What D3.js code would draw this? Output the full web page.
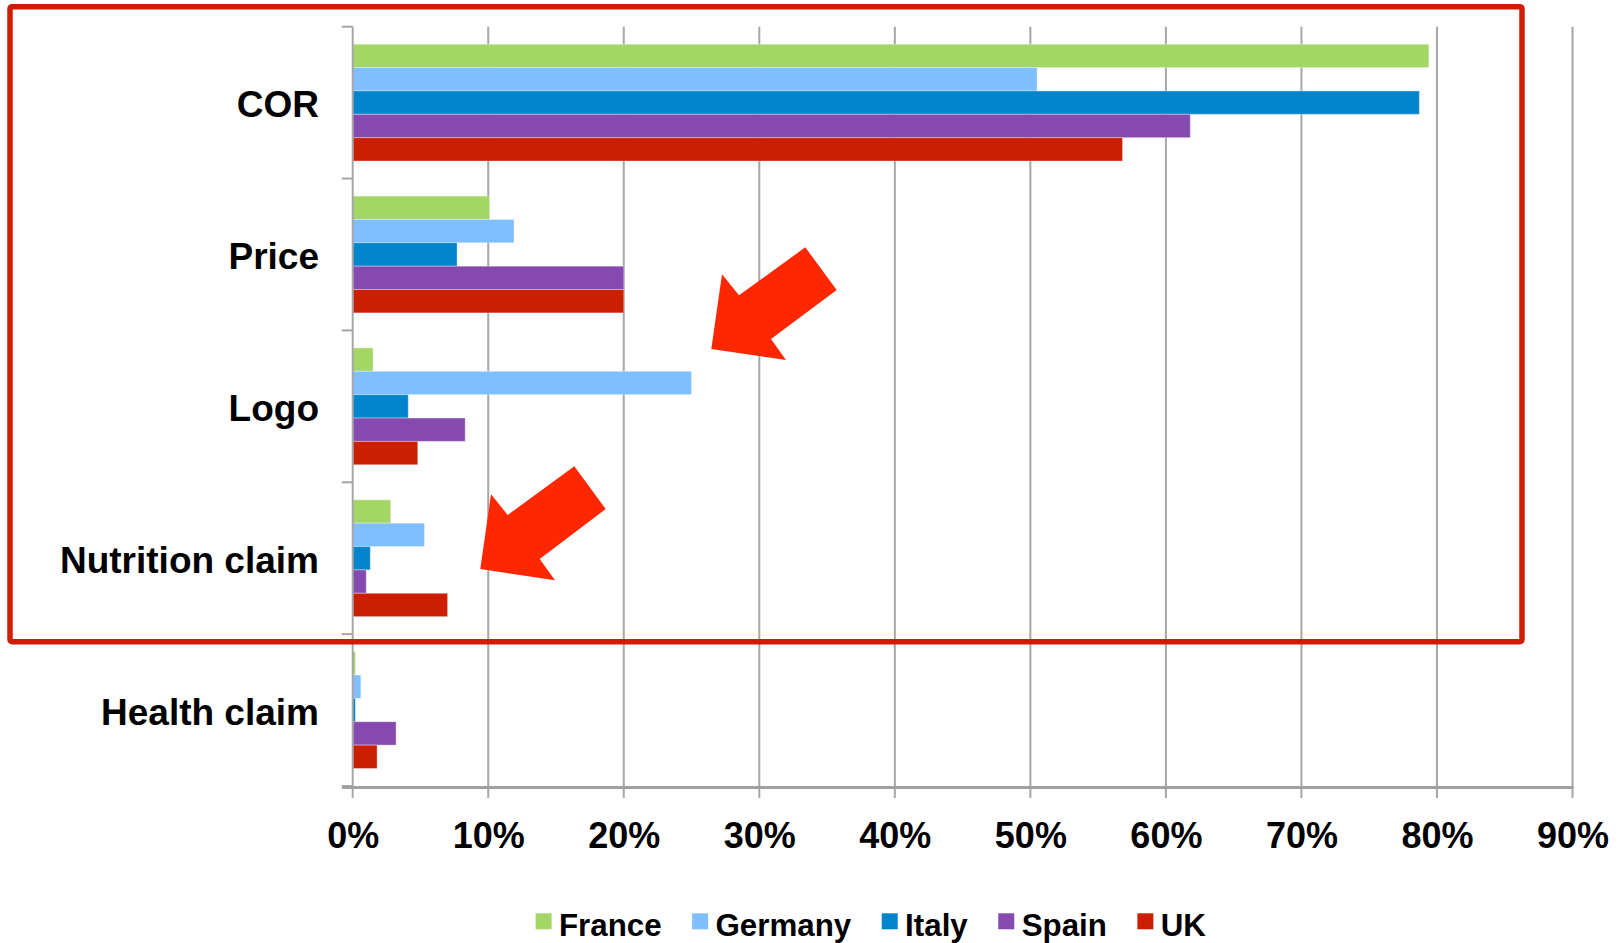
<!DOCTYPE html>
<html>
<head>
<meta charset="utf-8">
<script src="https://cdn.jsdelivr.net/npm/d3@7"></script>
<style>
  html, body { margin: 0; padding: 0; background: #fff; }
  svg { display: block; font-family: "Liberation Sans", Arial, sans-serif; }
</style>
</head>
<body>
<svg id="chart" width="1624" height="943"></svg>
<script>
// Share of attributes chosen, by country
const categories = ["COR", "Price", "Logo", "Nutrition claim", "Health claim"];
const countries = ["France", "Germany", "Italy", "Spain", "UK"];
const colors = ["#a3d665", "#80bfff", "#0084cc", "#8649b0", "#cc1e00"];
const france  = [0.794, 0.101, 0.015, 0.028, 0.002];
const germany = [0.505, 0.119, 0.250, 0.053, 0.006];
const italy   = [0.787, 0.077, 0.041, 0.013, 0.002];
const spain   = [0.618, 0.200, 0.083, 0.010, 0.032];
const uk      = [0.568, 0.200, 0.048, 0.070, 0.018];
const xTicks = [0, 0.1, 0.2, 0.3, 0.4, 0.5, 0.6, 0.7, 0.8, 0.9];

const seriesValues = [france, germany, italy, spain, uk];

const svg = d3.select("#chart");

const x = d3.scaleLinear().domain([0, 0.9]).range([352.7, 1572.5]);
const y = d3.scaleBand().domain(categories).range([26.7, 786]).padding(0);
const ySub = d3.scaleBand().domain(countries).range([0, y.bandwidth()])
  .paddingInner(0).paddingOuter(0.75);

const gridColor = "#a6a6a6";

// vertical gridlines (extend below the axis as tick marks)
svg.append("g").selectAll("line")
  .data(xTicks.slice(1))
  .join("line")
  .attr("x1", d => x(d)).attr("x2", d => x(d))
  .attr("y1", y.range()[0]).attr("y2", 798)
  .attr("stroke", gridColor).attr("stroke-width", 2);

// bars
const groups = svg.append("g").selectAll("g")
  .data(categories)
  .join("g")
  .attr("transform", d => `translate(0,${y(d)})`);

groups.selectAll("rect")
  .data((c, ci) => countries.map((name, si) => ({ name, si, v: seriesValues[si][ci] })))
  .join("rect")
  .attr("x", x(0))
  .attr("y", d => ySub(d.name))
  .attr("width", d => x(d.v) - x(0))
  .attr("height", ySub.bandwidth())
  .attr("fill", d => colors[d.si])
  .attr("stroke", "rgba(255,255,255,0.35)")
  .attr("stroke-width", 1);

// y axis line with category boundary ticks
svg.append("line")
  .attr("x1", x(0)).attr("x2", x(0))
  .attr("y1", y.range()[0]).attr("y2", 798)
  .attr("stroke", gridColor).attr("stroke-width", 2);

const bounds = categories.map(c => y(c)).concat([y.range()[1]]);
svg.append("g").selectAll("line")
  .data(bounds)
  .join("line")
  .attr("x1", x(0) - 11).attr("x2", x(0))
  .attr("y1", d => d).attr("y2", d => d)
  .attr("stroke", gridColor).attr("stroke-width", 2);

// x axis
const xAxis = svg.append("g")
  .attr("transform", `translate(0,${y.range()[1] + 1.5})`)
  .call(d3.axisBottom(x).tickValues(xTicks).tickFormat(d3.format(".0%"))
    .tickSize(0).tickPadding(60));
xAxis.select(".domain").remove();
xAxis.selectAll("text")
  .attr("fill", "#000")
  .attr("font-size", 36)
  .attr("font-weight", "bold")
  .attr("dy", 0);

svg.append("line")
  .attr("x1", 342).attr("x2", x(0.9) + 1)
  .attr("y1", y.range()[1] + 1.5).attr("y2", y.range()[1] + 1.5)
  .attr("stroke", "#a0a0a0").attr("stroke-width", 3);

// category labels
svg.append("g").selectAll("text")
  .data(categories)
  .join("text")
  .attr("x", 319)
  .attr("y", d => y(d) + y.bandwidth() / 2)
  .attr("dy", "0.4em")
  .attr("text-anchor", "end")
  .attr("font-size", 37)
  .attr("font-weight", "bold")
  .attr("fill", "#000")
  .text(d => d);

// legend
const legend = svg.append("g").attr("transform", "translate(535.6,0)");
let lx = 0;
countries.forEach((name, i) => {
  const g = legend.append("g").attr("transform", `translate(${lx},0)`);
  g.append("rect")
    .attr("x", 0).attr("y", 913.3)
    .attr("width", 16).attr("height", 16)
    .attr("fill", colors[i]);
  const t = g.append("text")
    .attr("x", 23.4).attr("y", 936)
    .attr("font-size", 31.3)
    .attr("font-weight", "bold")
    .attr("fill", "#000")
    .text(name);
  lx += 23.4 + t.node().getComputedTextLength() + 30.5;
});

// highlight frame
svg.append("rect")
  .attr("x", 10).attr("y", 6.7)
  .attr("width", 1512).attr("height", 635)
  .attr("rx", 2)
  .attr("fill", "none")
  .attr("stroke", "#d01c00")
  .attr("stroke-width", 5.5);

// pointer arrows
const arrowColor = "#ff2700";
const arrows = [
  [[805.3, 247.3], [836.7, 290], [771, 339], [786, 360], [711.3, 349], [722, 274.3], [739, 295.3]],
  [[574.3, 466.3], [605.7, 509], [539.7, 559], [555, 580.3], [480.3, 569], [491, 494.3], [507.7, 515]]
];
svg.append("g").selectAll("polygon")
  .data(arrows)
  .join("polygon")
  .attr("points", d => d.map(p => p.join(",")).join(" "))
  .attr("fill", arrowColor);
</script>
</body>
</html>
